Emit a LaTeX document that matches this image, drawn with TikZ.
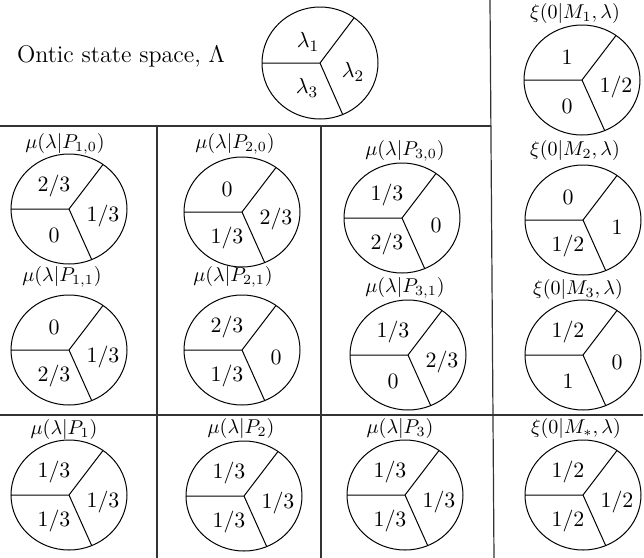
\documentclass[tikz,border=0pt]{standalone}
\usetikzlibrary{calc}
\tikzset{
 gridline/.style={line width=0.6pt, black!80},
 pieline/.style={line width=0.5pt},
 num/.style={inner sep=0pt, font=\fontsize{11.3}{13}\selectfont},
 lab/.style={inner sep=0pt, font=\fontsize{10}{12}\selectfont},
 title/.style={inner sep=0pt, font=\fontsize{12}{14}\selectfont},
}
\newcommand\pchart[7]{%
 \coordinate (#1) at (#2);
 \draw[pieline] (#1) ellipse [x radius=29pt, y radius=27.5pt];
 \draw[pieline] (#1) -- ++(-58,0) (#1) -- ++(34,-44.5) (#1) -- ++(22.7,50.6);
 \node[lab] (#1-lab) at (#3) {$#4$};
 \node[num] (#1-a) at ($(#1)+(-15,-23)$) {$#5$};
 \node[num] (#1-b) at ($(#1)+(34,7)$) {$#6$};
 \node[num] (#1-c) at ($(#1)+(-15,26)$) {$#7$};
}
\begin{document}
\begin{tikzpicture}[x=0.5pt,y=-0.5pt]
\useasboundingbox (0,0) rectangle (644,558);
% grid
\draw[gridline] (0,126) -- (491,126);
\draw[gridline] (490,0) -- (494,558);
\draw[gridline] (157,126) -- (157,558);
\draw[gridline] (321,126) -- (321,558);
\draw[gridline] (0,415) -- (643,415);
% title and ontic circle
\node[title] (ttl) at (121,56) {Ontic state space, $\Lambda$};
\coordinate (lam) at (320,63);
\draw[pieline] (lam) ellipse [x radius=29pt, y radius=28pt];
\draw[pieline] (lam) -- ++(-58,0) (lam) -- ++(34,-45) (lam) -- ++(22.7,51.5);
\node[num] (l1) at ($(lam)+(-12,-21)$) {$\lambda_1$};
\node[num] (l2) at ($(lam)+(33,9)$) {$\lambda_2$};
\node[num] (l3) at ($(lam)+(-13,25)$) {$\lambda_3$};
% row 1
\pchart{p10}{69,209}{65,144}{\mu(\lambda|P_{1,0})}{2/3}{1/3}{0}
\pchart{p20}{242,212}{235,144}{\mu(\lambda|P_{2,0})}{0}{2/3}{1/3}
\pchart{p30}{402,218}{405,151}{\mu(\lambda|P_{3,0})}{1/3}{0}{2/3}
\pchart{m1}{582,80}{575,13}{\xi(0|M_1,\lambda)}{1}{1/2}{0}
\pchart{m2}{583,220}{575,150}{\xi(0|M_2,\lambda)}{0}{1}{1/2}
% row 2
\pchart{p11}{69,350}{62,277}{\mu(\lambda|P_{1,1})}{0}{1/3}{2/3}
\pchart{p21}{242,350}{233,277}{\mu(\lambda|P_{2,1})}{2/3}{0}{1/3}
\pchart{p31}{408,355}{405,288}{\mu(\lambda|P_{3,1})}{1/3}{2/3}{0}
\pchart{m3}{583,355}{578,289}{\xi(0|M_3,\lambda)}{1/2}{0}{1}
% row 3
\pchart{p1}{69,495}{64,429}{\mu(\lambda|P_1)}{1/3}{1/3}{1/3}
\pchart{p2}{244,496}{241,428}{\mu(\lambda|P_2)}{1/3}{1/3}{1/3}
\pchart{p3}{405,495}{400,428}{\mu(\lambda|P_3)}{1/3}{1/3}{1/3}
\pchart{ms}{583,495}{576,428}{\xi(0|M_*,\lambda)}{1/2}{1/2}{1/2}
\end{tikzpicture}
\end{document}
